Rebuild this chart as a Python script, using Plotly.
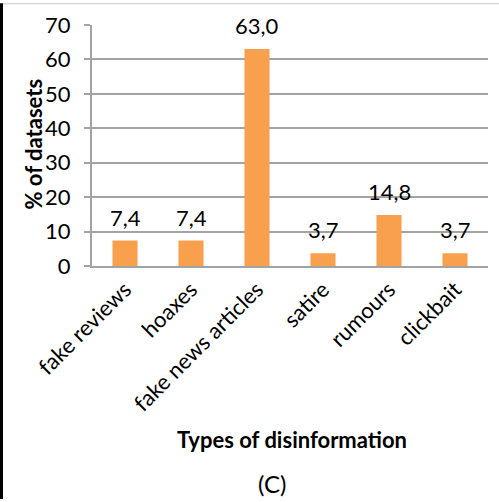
import plotly.graph_objects as go

categories = ["fake reviews", "hoaxes", "fake news articles", "satire", "rumours", "clickbait"]
values = [7.4, 7.4, 63.0, 3.7, 14.8, 3.7]
y_ticks = [0, 10, 20, 30, 40, 50, 60, 70]

W, H = 499, 502
ML, MR, MT, MB = 92, 11, 22, 236
PW, PH = W - ML - MR, H - MT - MB

FONT = "Lato"
FS = 22
BAR = "#F9A04E"
GRID = "#A3A3A3"

def px_x(px):
    return (px - ML) / PW

def px_y(py):
    return (H - MB - py) / PH

fig = go.Figure(go.Bar(
    x=categories, y=values, marker=dict(color=BAR, line=dict(width=0)),
    width=0.38, hoverinfo="skip",
))

# value labels above each bar, decimal comma
for c, v in zip(categories, values):
    fig.add_annotation(
        x=c, y=v, text=f"{v:.1f}".replace(".", ","), showarrow=False,
        yanchor="bottom", yshift=8, font=dict(family=FONT, size=FS, color="black"),
    )

fig.add_annotation(
    xref="paper", yref="paper", x=px_x(292), y=px_y(442), text="<b>Types of disinformation</b>",
    showarrow=False, xanchor="center", yanchor="middle",
    font=dict(family=FONT, size=FS, color="black"),
)
fig.add_annotation(
    xref="paper", yref="paper", x=px_x(272), y=px_y(486), text="(C)",
    showarrow=False, xanchor="center", yanchor="middle",
    font=dict(family=FONT, size=24, color="black"),
)
fig.add_annotation(
    xref="paper", yref="paper", x=px_x(34), y=px_y(143), text="<b>% of datasets</b>",
    showarrow=False, textangle=-90, xanchor="center", yanchor="middle",
    font=dict(family=FONT, size=FS, color="black"),
)

# frame edges
fig.add_shape(type="line", xref="paper", yref="paper",
              x0=px_x(1.5), x1=px_x(1.5), y0=px_y(0), y1=px_y(H),
              line=dict(color="black", width=3))
fig.add_shape(type="line", xref="paper", yref="paper",
              x0=px_x(3), x1=px_x(W), y0=px_y(0.5), y1=px_y(0.5),
              line=dict(color="#C8C8C8", width=1))

fig.update_layout(
    width=W, height=H,
    margin=dict(l=ML, r=MR, t=MT, b=MB, pad=0),
    paper_bgcolor="white", plot_bgcolor="white",
    showlegend=False,
    font=dict(family=FONT, size=FS, color="black"),
    xaxis=dict(
        type="category", tickangle=-45, showgrid=False,
        showline=True, linecolor=GRID, linewidth=2,
        ticks="", tickfont=dict(family=FONT, size=FS, color="black"),
    ),
    yaxis=dict(
        range=[0, 70], tickvals=y_ticks, showgrid=True, gridcolor=GRID, gridwidth=2,
        showline=True, linecolor=GRID, linewidth=2, zeroline=False,
        ticks="outside", ticklen=6, tickcolor=GRID, tickwidth=2,
        ticklabelstandoff=9,
        tickfont=dict(family=FONT, size=FS, color="black"),
    ),
)

fig.write_html("out.html")
